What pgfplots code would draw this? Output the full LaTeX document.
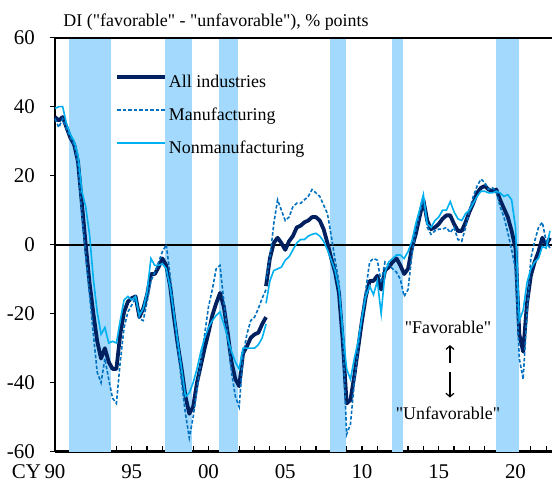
\documentclass[border=0pt]{standalone}
\usepackage{fontspec}
\setmainfont{Liberation Serif}[Ligatures=TeXOff]
\usepackage{pgfplots}
\usepackage{pgfplotstable}
\pgfplotsset{compat=1.18}
\usetikzlibrary{arrows.meta}

\definecolor{allind}{RGB}{0,32,96}
\definecolor{manuf}{RGB}{0,112,192}
\definecolor{nonmanuf}{RGB}{0,176,240}
\definecolor{recess}{RGB}{162,217,252}

% Tankan business conditions DI, quarterly (old basis up to 2003 Q4)
\pgfplotstableread{
t       all    mfg    non
1990.00 37     36.5   39.5
1990.25 36     34     40
1990.50 37     36.5   40
1990.75 34     33.5   35
1991.00 31     31     32
1991.25 29     29     30
1991.50 24     23     26
1991.75 12     8.5    15.5
1992.00 0      -3     11
1992.25 -11    -14.5  3
1992.50 -20    -26    -10
1992.75 -28    -37    -19.5
1993.00 -33    -40    -26
1993.25 -30    -33    -24
1993.50 -34    -39    -28.5
1993.75 -36    -44.5  -28
1994.00 -36    -46    -28.5
1994.25 -26    -34    -22
1994.50 -19.5  -24    -16
1994.75 -16.5  -19.5  -15
1995.00 -15.5  -17.5  -16
1995.25 -15    -15.5  -15
1995.50 -21    -21.5  -20.5
1995.75 -18.5  -22    -18.5
1996.00 -14.5  -16.5  -13.5
1996.25 -8.5   -10.5  -4
1996.50 -8.5   -8     -6
1996.75 -6.5   -5     -6
1997.00 -4     -2     -5.5
1997.25 -6     0      -7
1997.50 -12    -9     -12.5
1997.75 -21    -20    -20
1998.00 -29    -30    -28
1998.25 -36    -40    -36
1998.50 -44    -49    -44
1998.75 -49    -56    -43
1999.00 -47    -50    -40
1999.25 -40    -42    -36
1999.50 -35    -34    -31
1999.75 -30    -26    -27
2000.00 -25.5  -18    -24
2000.25 -20.5  -13    -22
2000.50 -17    -7     -20.5
2000.75 -14    -6     -19.5
2001.00 -18    -16.5  -23
2001.25 -25.5  -26    -27
2001.50 -34    -37    -31
2001.75 -39    -44    -34
2002.00 -41    -47    -36
2002.25 -31.5  -32    -30
2002.50 -29.5  -26    -30
2002.75 -27    -22    -30
2003.00 -26    -21    -30
2003.25 -25.5  -18.5  -29
2003.50 -23    -15.5  -27
2003.75 -21    -13    -23
}\olddata

% new basis from 2003 Q4
\pgfplotstableread{
t       all    mfg    non
2003.75 -12    -10    -17
2004.00 -4     -4     -10.5
2004.25 0.5    6      -7.5
2004.50 2      13     -7
2004.75 0.5    10     -6.5
2005.00 -1.5   7      -4.5
2005.25 1      8      -3.5
2005.50 2.5    11     -1.5
2005.75 5      12     0.5
2006.00 5.5    12     1.5
2006.25 6.5    13     1.5
2006.50 7      14     2.5
2006.75 8      16     3
2007.00 8      15     3.3
2007.25 7      14     2.5
2007.50 4.5    11.5   1
2007.75 0.5    9      -1.5
2008.00 -4     2.5    -4.5
2008.25 -8     -4.5   -7.5
2008.50 -14    -11    -13
2008.75 -28    -27    -25
2009.00 -46    -55    -36
2009.25 -45    -52    -39
2009.50 -38    -40    -33
2009.75 -30    -30    -28
2010.00 -22    -21    -21
2010.25 -15    -13    -15
2010.50 -10.5  -5     -12
2010.75 -10.5  -4     -14.5
2011.00 -9     -4.5   -10.5
2011.25 -13    -11    -20
2011.50 -7.5   -5     -8
2011.75 -6.5   -6     -5
2012.00 -5     -7     -4
2012.25 -4     -8     -3
2012.50 -6     -10    -3
2012.75 -8.5   -15    -4
2013.00 -7     -13    -2
2013.25 -1     -3     1
2013.50 3      4      6
2013.75 8      9      10
2014.00 13     13     14.5
2014.25 7      5      6
2014.50 4.5    3      5
2014.75 5      4      7
2015.00 6      4.5    8
2015.25 7.5    4.5    10
2015.50 8.5    5      10
2015.75 8.5    3.5    12.5
2016.00 6      5      9.5
2016.25 4      1.5    7.5
2016.50 4      1      7
2016.75 6.5    5      9
2017.00 9.5    10     10
2017.25 12     14     12
2017.50 15     17     14
2017.75 16.5   19     15.5
2018.00 17     18     15.5
2018.25 16     16     15
2018.50 15.5   16.5   15
2018.75 16     15.5   15.5
2019.00 13     11     15
2019.25 10.5   8      14
2019.50 8      3.5    14.5
2019.75 4      -1.5   13
2020.00 -1     -7     5
2020.25 -26    -33    -22
2020.50 -31    -39    -19
2020.75 -17    -20    -11
2021.00 -9     -4     -7
2021.25 -5     1      -5
2021.50 -2     5      -4
2021.75 2      6.5    -0.5
2022.00 0      1      -1
2022.25 2      -1     4
}\newdata

\begin{document}
\begin{tikzpicture}
\useasboundingbox (0,0) rectangle (552bp,489bp);
\begin{axis}[
  at={(55bp,37.3bp)}, anchor=south west,
  width=497bp, height=414bp, scale only axis,
  xmin=1990, xmax=2022.38, ymin=-60, ymax=60,
  clip=false,
  axis lines=left,
  axis line style={-, line width=2.4bp, black},
  ytick={-60,-40,-20,0,20,40,60},
  yticklabels={-60,-40,-20,0,20,40,60},
  xtick={1990,1995,2000,2005,2010,2015,2020},
  xticklabels={{\llap{CY\,}90},95,00,05,10,15,20},
  minor xtick={1991,1992,...,2022},
  tick align=inside,
  major tick length=6bp, minor tick length=6bp,
  tick style={black, line width=1.2bp},
  ytick style={xshift=-5bp},
  xticklabel style={font=\fontsize{21}{21}\selectfont, anchor=north, inner sep=0pt, yshift=-13bp},
  yticklabel style={font=\fontsize{21}{21}\selectfont, anchor=east, inner sep=0pt, xshift=-20bp},
  legend style={at={(0.1207,0.911)}, anchor=north west, draw=none, fill=none,
    inner sep=0pt, font=\fontsize{18}{18}\selectfont, row sep=16bp,
    nodes={inner sep=0pt, text height=13bp, text depth=4bp}},
  legend cell align=left,
  /tikz/every odd column/.append style={column sep=2bp},
  legend image code/.code={\draw[#1] (0bp,6.5bp) -- (48bp,6.5bp);},
]
  % recession periods
  \addplot[forget plot, draw=none, fill=recess] coordinates {(1990.91,-60) (1990.91,60) (1993.65,60) (1993.65,-60)} -- cycle;
  \addplot[forget plot, draw=none, fill=recess] coordinates {(1997.17,-60) (1997.17,60) (1998.93,60) (1998.93,-60)} -- cycle;
  \addplot[forget plot, draw=none, fill=recess] coordinates {(2000.68,-60) (2000.68,60) (2001.90,60) (2001.90,-60)} -- cycle;
  \addplot[forget plot, draw=none, fill=recess] coordinates {(2007.94,-60) (2007.94,60) (2008.94,60) (2008.94,-60)} -- cycle;
  \addplot[forget plot, draw=none, fill=recess] coordinates {(2011.95,-60) (2011.95,60) (2012.69,60) (2012.69,-60)} -- cycle;
  \addplot[forget plot, draw=none, fill=recess] coordinates {(2018.73,-60) (2018.73,60) (2020.21,60) (2020.21,-60)} -- cycle;

  \addplot[forget plot, black, line width=2bp] coordinates {(1990,0) (2022.38,0)};
  \addplot[forget plot, black, line width=1.8bp] coordinates {(1990,60) (2022.38,60)};

  \addplot[allind, line width=3.8bp, line join=round] table[x=t, y=all] {\olddata};
  \addlegendentry{All industries}
  \addplot[manuf, line width=1.6bp, dash pattern=on 3.5bp off 2bp] table[x=t, y=mfg] {\olddata};
  \addlegendentry{Manufacturing}
  \addplot[nonmanuf, line width=1.6bp] table[x=t, y=non] {\olddata};
  \addlegendentry{Nonmanufacturing}

  \addplot[forget plot, allind, line width=3.8bp, line join=round] table[x=t, y=all] {\newdata};
  \addplot[forget plot, manuf, line width=1.6bp, dash pattern=on 3.5bp off 2bp] table[x=t, y=mfg] {\newdata};
  \addplot[forget plot, nonmanuf, line width=1.6bp] table[x=t, y=non] {\newdata};

  \node[anchor=base west, inner sep=0pt, font=\fontsize{18}{18}\selectfont]
    at (rel axis cs:0.0167,1.0266) {DI ("favorable" - "unfavorable"), \% points};
  \node[inner sep=0pt, font=\fontsize{18}{18}\selectfont] at (axis cs:2015.6,-24.1) {"Favorable"};
  \node[inner sep=0pt, font=\fontsize{18}{18}\selectfont] at (axis cs:2015.6,-48.8) {"Unfavorable"};
  \draw[line width=1.2bp, -{Straight Barb[length=3.5bp,width=8bp]}] (axis cs:2015.73,-34.3) -- (axis cs:2015.73,-29.1);
  \draw[line width=1.2bp, -{Straight Barb[length=3.5bp,width=8bp]}] (axis cs:2015.73,-37) -- (axis cs:2015.73,-44.3);
\end{axis}
\end{tikzpicture}
\end{document}
